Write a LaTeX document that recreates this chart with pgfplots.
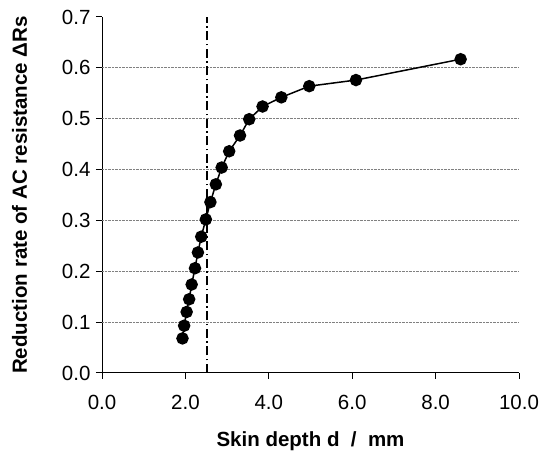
\documentclass[border=0pt]{standalone}
\usepackage{fontspec}
\setmainfont{Liberation Sans}
\usepackage{pgfplots}
\pgfplotsset{compat=1.18}
\usetikzlibrary{calc}

\pgfplotstableread{
x y
1.93 0.068
1.97 0.093
2.03 0.120
2.09 0.145
2.15 0.174
2.23 0.206
2.30 0.237
2.38 0.268
2.49 0.302
2.60 0.336
2.73 0.371
2.87 0.404
3.05 0.436
3.31 0.467
3.53 0.499
3.85 0.524
4.30 0.542
4.97 0.564
6.09 0.576
8.60 0.617
}\skindata

\begin{document}
\begin{tikzpicture}
\begin{axis}[
  scale only axis,
  width=417pt, height=356pt,
  xmin=0, xmax=10, ymin=0, ymax=0.7,
  axis lines=left,
  axis line style={-, line width=1pt},
  tick align=outside,
  major tick length=6pt,
  tick style={black, line width=1pt},
  xtick={0,2,...,10},
  ytick={0,0.1,...,0.7},
  xticklabel style={/pgf/number format/.cd, fixed, fixed zerofill, precision=1},
  yticklabel style={/pgf/number format/.cd, fixed, fixed zerofill, precision=1},
  /pgf/number format/assume math mode=true,
  tick label style={font=\fontsize{20.5}{20.5}\selectfont},
  xticklabel shift=13pt,
  yticklabel shift=2pt,
  extra y ticks={0.1,0.2,0.3,0.4,0.5,0.6},
  extra y tick labels={},
  extra y tick style={grid=major, major grid style={gray, densely dotted, line width=0.8pt}, tick style={draw=none}},
  xlabel={\textbf{Skin depth d\ \ /\ \ mm}},
  ylabel={\textbf{Reduction rate of AC resistance ΔRs}},
  label style={font=\fontsize{20.5}{20.5}\selectfont},
  xlabel style={yshift=-15pt},
  ylabel style={yshift=12pt},
  clip=false,
]
  \addplot[black, line width=1.6pt, dash pattern=on 9pt off 3.5pt on 1.5pt off 3.5pt] coordinates {(2.52,0) (2.52,0.7)};
  \addplot[black, line width=1.5pt, mark=*, mark size=5.5pt] table {\skindata};
\end{axis}
\pgfresetboundingbox
\path ($(current axis.south west)+(-102pt,-80pt)$) rectangle ($(current axis.north east)+(23pt,17pt)$);
\end{tikzpicture}
\end{document}
